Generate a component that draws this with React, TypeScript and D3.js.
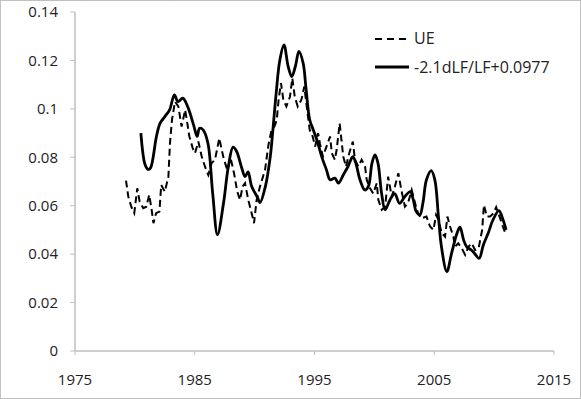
import * as d3 from 'd3';

// values: [year, value]
const ueSeries: [number, number][] = [
  [1979.26, 0.0704], [1979.45, 0.0638], [1979.7, 0.0596], [1979.95, 0.0569], [1980.2, 0.0672],
  [1980.4, 0.0617], [1980.7, 0.059], [1980.95, 0.0596], [1981.2, 0.0645], [1981.4, 0.0583],
  [1981.55, 0.0528], [1981.77, 0.0569], [1982.05, 0.0576], [1982.2, 0.0686], [1982.5, 0.0658],
  [1982.8, 0.072], [1982.93, 0.0858], [1983.1, 0.0955], [1983.35, 0.103], [1983.63, 0.101],
  [1983.9, 0.0927], [1984.2, 0.0996], [1984.38, 0.094], [1984.55, 0.0886], [1984.83, 0.0838],
  [1985.02, 0.0817], [1985.3, 0.0865], [1985.58, 0.0803], [1985.85, 0.0762], [1986.13, 0.0727],
  [1986.41, 0.0776], [1986.69, 0.079], [1987.05, 0.0879], [1987.25, 0.0831], [1987.44, 0.079],
  [1987.72, 0.0748], [1988.0, 0.0796], [1988.28, 0.0734], [1988.55, 0.0658], [1988.78, 0.0624],
  [1989.0, 0.068], [1989.2, 0.0693], [1989.47, 0.0624], [1989.75, 0.0569], [1989.95, 0.0528],
  [1990.17, 0.0624], [1990.45, 0.068], [1990.87, 0.0748], [1991.15, 0.085], [1991.4, 0.091],
  [1991.68, 0.093], [1991.85, 0.0955], [1992.0, 0.1037], [1992.2, 0.1106], [1992.4, 0.1037],
  [1992.65, 0.101], [1992.95, 0.105], [1993.15, 0.1127], [1993.35, 0.105], [1993.6, 0.101],
  [1993.9, 0.1037], [1994.15, 0.1092], [1994.35, 0.101], [1994.6, 0.0913], [1994.85, 0.0886],
  [1995.05, 0.0844], [1995.3, 0.09], [1995.45, 0.0858], [1995.7, 0.0803], [1996.0, 0.0844],
  [1996.3, 0.0886], [1996.45, 0.0817], [1996.7, 0.079], [1996.85, 0.0831], [1997.1, 0.094],
  [1997.25, 0.0872], [1997.4, 0.0803], [1997.63, 0.0762], [1997.9, 0.0817], [1998.2, 0.0865],
  [1998.38, 0.079], [1998.66, 0.0762], [1998.94, 0.079], [1999.22, 0.0762], [1999.36, 0.0707],
  [1999.64, 0.0672], [1999.9, 0.065], [2000.2, 0.0693], [2000.33, 0.0624], [2000.62, 0.0583],
  [2000.9, 0.0596], [2001.15, 0.072], [2001.45, 0.0638], [2001.72, 0.068], [2002.0, 0.0734],
  [2002.25, 0.0665], [2002.55, 0.0596], [2002.8, 0.061], [2003.12, 0.0665], [2003.4, 0.061],
  [2003.65, 0.0569], [2003.9, 0.0548], [2004.35, 0.0555], [2004.65, 0.0514], [2004.93, 0.05],
  [2005.15, 0.0562], [2005.35, 0.0541], [2005.63, 0.0486], [2005.9, 0.0472], [2006.1, 0.0555],
  [2006.32, 0.0514], [2006.6, 0.0472], [2006.74, 0.0431], [2007.0, 0.0445], [2007.3, 0.0424],
  [2007.58, 0.0397], [2007.86, 0.0431], [2008.14, 0.0445], [2008.4, 0.0417], [2008.7, 0.0424],
  [2009.0, 0.05], [2009.15, 0.0603], [2009.4, 0.0555], [2009.66, 0.0555], [2009.95, 0.0569],
  [2010.17, 0.0594], [2010.45, 0.0555], [2010.73, 0.0514], [2011.0, 0.0479],
];

const fitSeries: [number, number][] = [
  [1980.5, 0.09], [1980.85, 0.077], [1981.1, 0.075], [1981.3, 0.0755], [1981.8, 0.0886],
  [1982.1, 0.094], [1982.5, 0.0968], [1982.9, 0.0996], [1983.3, 0.1058], [1983.6, 0.103],
  [1984.0, 0.1044], [1984.4, 0.101], [1984.9, 0.0934], [1985.2, 0.0886], [1985.4, 0.092],
  [1985.7, 0.0913], [1986.1, 0.0858], [1986.5, 0.065], [1986.9, 0.048], [1987.4, 0.061],
  [1987.8, 0.076], [1988.2, 0.0842], [1988.5, 0.0824], [1988.9, 0.076], [1989.2, 0.072],
  [1989.45, 0.074], [1989.75, 0.068], [1990.2, 0.0638], [1990.45, 0.0613], [1990.9, 0.068],
  [1991.3, 0.08], [1991.55, 0.0927], [1991.8, 0.1065], [1992.1, 0.12], [1992.45, 0.1264],
  [1992.8, 0.1175], [1993.1, 0.1133], [1993.4, 0.1175], [1993.7, 0.1237], [1994.05, 0.1189],
  [1994.3, 0.108], [1994.6, 0.0955], [1994.9, 0.0913], [1995.2, 0.0872], [1995.6, 0.0803],
  [1996.0, 0.0748], [1996.3, 0.0707], [1996.7, 0.0714], [1997.0, 0.0693], [1997.4, 0.0727],
  [1997.8, 0.0762], [1998.2, 0.0803], [1998.45, 0.0776], [1998.8, 0.0707], [1999.2, 0.0665],
  [1999.5, 0.068], [1999.8, 0.0776], [2000.05, 0.081], [2000.3, 0.0776], [2000.6, 0.0652],
  [2000.9, 0.0583], [2001.3, 0.0624], [2001.7, 0.065], [2002.1, 0.061], [2002.55, 0.0638],
  [2003.0, 0.0658], [2003.25, 0.0624], [2003.5, 0.0576], [2003.8, 0.0562], [2004.05, 0.061],
  [2004.35, 0.0707], [2004.75, 0.0745], [2005.05, 0.0707], [2005.35, 0.0555], [2005.6, 0.0431],
  [2006.05, 0.0328], [2006.45, 0.0404], [2006.9, 0.0486], [2007.15, 0.0511], [2007.45, 0.0459],
  [2007.7, 0.0431], [2008.1, 0.0417], [2008.35, 0.0404], [2008.75, 0.0383], [2009.1, 0.0438],
  [2009.5, 0.0486], [2009.9, 0.0541], [2010.4, 0.058], [2010.75, 0.0541], [2011.0, 0.05],
];

const yTicks = [0, 0.02, 0.04, 0.06, 0.08, 0.1, 0.12, 0.14];
const xTicks = [1975, 1985, 1995, 2005, 2015];
const legendLabels = ['UE', '-2.1dLF/LF+0.0977'];

const W = 581;
const H = 399;
const font = "'Open Sans', sans-serif";

export default function App() {
  const x = d3.scaleLinear().domain([1975, 2015]).range([75, 554]);
  const y = d3.scaleLinear().domain([0, 0.14]).range([351, 12]);

  const line = d3.line<[number, number]>()
    .x((d) => x(d[0]))
    .y((d) => y(d[1]));
  const smooth = d3.line<[number, number]>()
    .x((d) => x(d[0]))
    .y((d) => y(d[1]))
    .curve(d3.curveCatmullRom);

  const axisColor = '#bfbfbf';

  return (
    <svg width={W} height={H} style={{ position: 'absolute', left: 0, top: 0, background: '#fff' }}>
      <rect x={0.5} y={0.5} width={W - 1} height={H - 1} fill="#fff" stroke="#808080" strokeDasharray="1,1" />

      {/* y axis */}
      <line x1={x(1975)} x2={x(1975)} y1={y(0)} y2={y(0.14)} stroke={axisColor} strokeWidth={1.5} />
      {yTicks.map((t) => (
        <g key={t}>
          <line x1={x(1975) - 5} x2={x(1975)} y1={y(t)} y2={y(t)} stroke={axisColor} />
          <text x={58} y={y(t)} dy="0.35em" textAnchor="end" fontFamily={font} fontSize={15} fill="#222">
            {t === 0 ? '0' : String(t)}
          </text>
        </g>
      ))}

      {/* x axis */}
      <line x1={x(1975)} x2={x(2015)} y1={y(0)} y2={y(0)} stroke={axisColor} strokeWidth={1.5} />
      {xTicks.map((t) => (
        <g key={t}>
          <line x1={x(t)} x2={x(t)} y1={y(0)} y2={y(0) + 4} stroke={axisColor} />
          <text x={x(t)} y={385} textAnchor="middle" fontFamily={font} fontSize={15} fill="#222">
            {t}
          </text>
        </g>
      ))}

      <path d={line(ueSeries) ?? ''} fill="none" stroke="#000" strokeWidth={2} strokeDasharray="7,4" />
      <path d={smooth(fitSeries) ?? ''} fill="none" stroke="#000" strokeWidth={2.8} strokeLinejoin="round" />

      {/* legend */}
      <line x1={375} x2={409} y1={39} y2={39} stroke="#000" strokeWidth={2} strokeDasharray="7,5" />
      <text x={414} y={44} fontFamily={font} fontSize={16} fill="#222">{legendLabels[0]}</text>
      <line x1={375} x2={409} y1={67} y2={67} stroke="#000" strokeWidth={2.8} />
      <text x={414} y={72.5} fontFamily={font} fontSize={16} fill="#222">{legendLabels[1]}</text>
    </svg>
  );
}
